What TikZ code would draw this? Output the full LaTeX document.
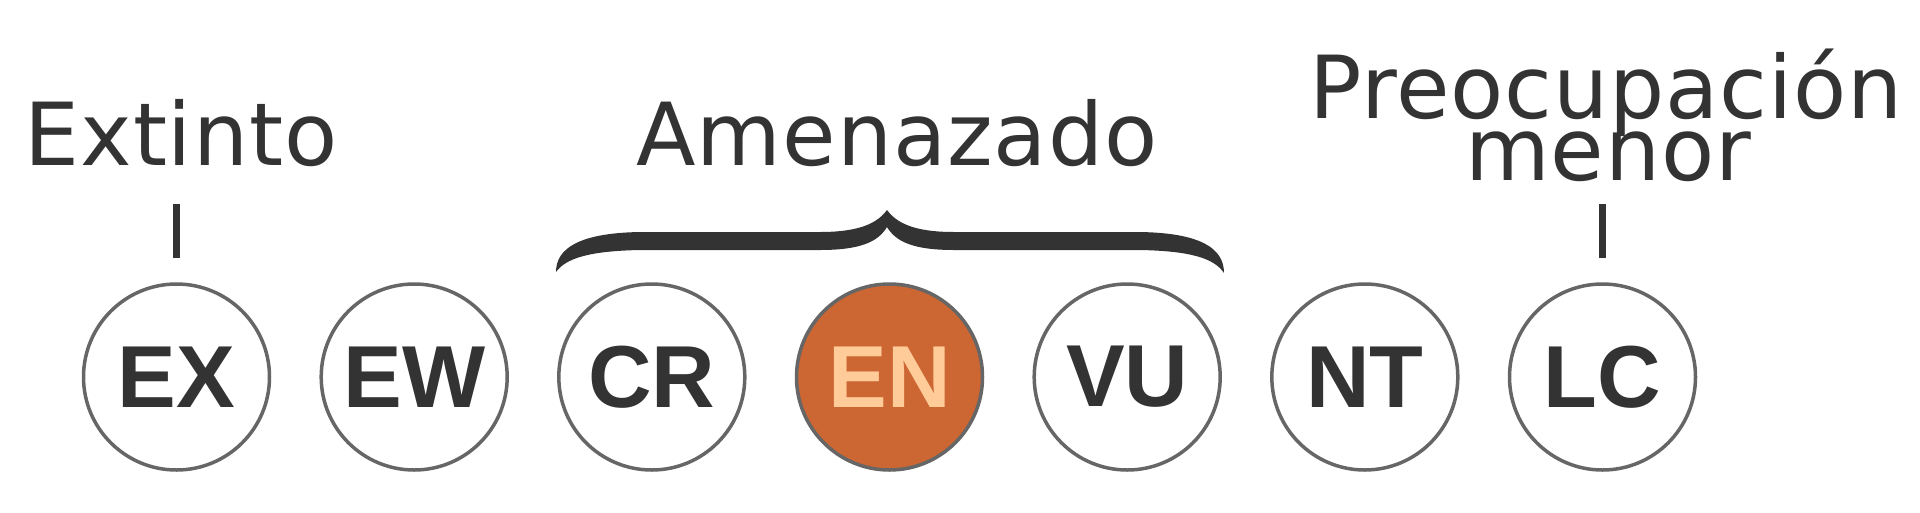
\documentclass[tikz,border=0pt]{standalone}
\usepackage{fontspec}
\setmainfont{DejaVu Sans}[LetterSpace=1.0]
\newfontfamily\labfont{Liberation Sans}
\definecolor{txt}{HTML}{333333}
\definecolor{ring}{HTML}{666666}
\definecolor{enfill}{HTML}{CC6633}
\definecolor{entext}{HTML}{FFCC99}
\tikzset{
  status/.style={circle, draw=ring, line width=3.5pt, fill=white, minimum size=186pt, inner sep=0pt,
    font=\labfont\bfseries\fontsize{88}{88}\selectfont, text=txt},
  hot/.style={status, fill=enfill, text=entext},
  cat/.style={anchor=base, inner sep=0pt, text=txt, font=\fontsize{87}{62}\selectfont, align=center},
  tick/.style={draw=txt, line width=7.7pt}
}
\begin{document}
\begin{tikzpicture}[x=1pt,y=-1pt]
\useasboundingbox (0,0) rectangle (1920,512);
\node[status] (ex) at (176.5,377) {EX};
\node[status] (ew) at (414.2,377) {EW};
\node[status] (cr) at (651.8,377) {CR};
\node[hot]    (en) at (889.5,377) {EN};
\node[status] (vu) at (1127.2,377) {VU};
\node[status] (nt) at (1364.8,377) {NT};
\node[status] (lc) at (1602.5,377) {LC};

\node[cat] (extinto) at (181,165) {Extinto};
\node[cat] (amen) at (897,165) {Amenazado};
\node[cat] (preo) at (1606,118) {Preocupación};
\node[cat] (menor) at (1608,180) {menor};

\draw[tick] ([yshift=24pt]ex.north) -- ([yshift=78pt]ex.north);
\draw[tick] ([yshift=24pt]lc.north) -- ([yshift=78pt]lc.north);

\fill[txt] (556,272) .. controls (556,248) and (580,233) .. (640,232)
  -- (820,232) .. controls (862,232) and (878,222) .. (887,210)
  .. controls (896,222) and (912,232) .. (954,232)
  -- (1140,232) .. controls (1200,233) and (1224,248) .. (1224,273)
  .. controls (1214,258) and (1190,251) .. (1140,250)
  -- (954,250) .. controls (914,250) and (896,242) .. (887,227)
  .. controls (878,242) and (860,250) .. (820,250)
  -- (640,250) .. controls (590,251) and (566,258) .. (556,272) -- cycle;
\end{tikzpicture}
\end{document}
